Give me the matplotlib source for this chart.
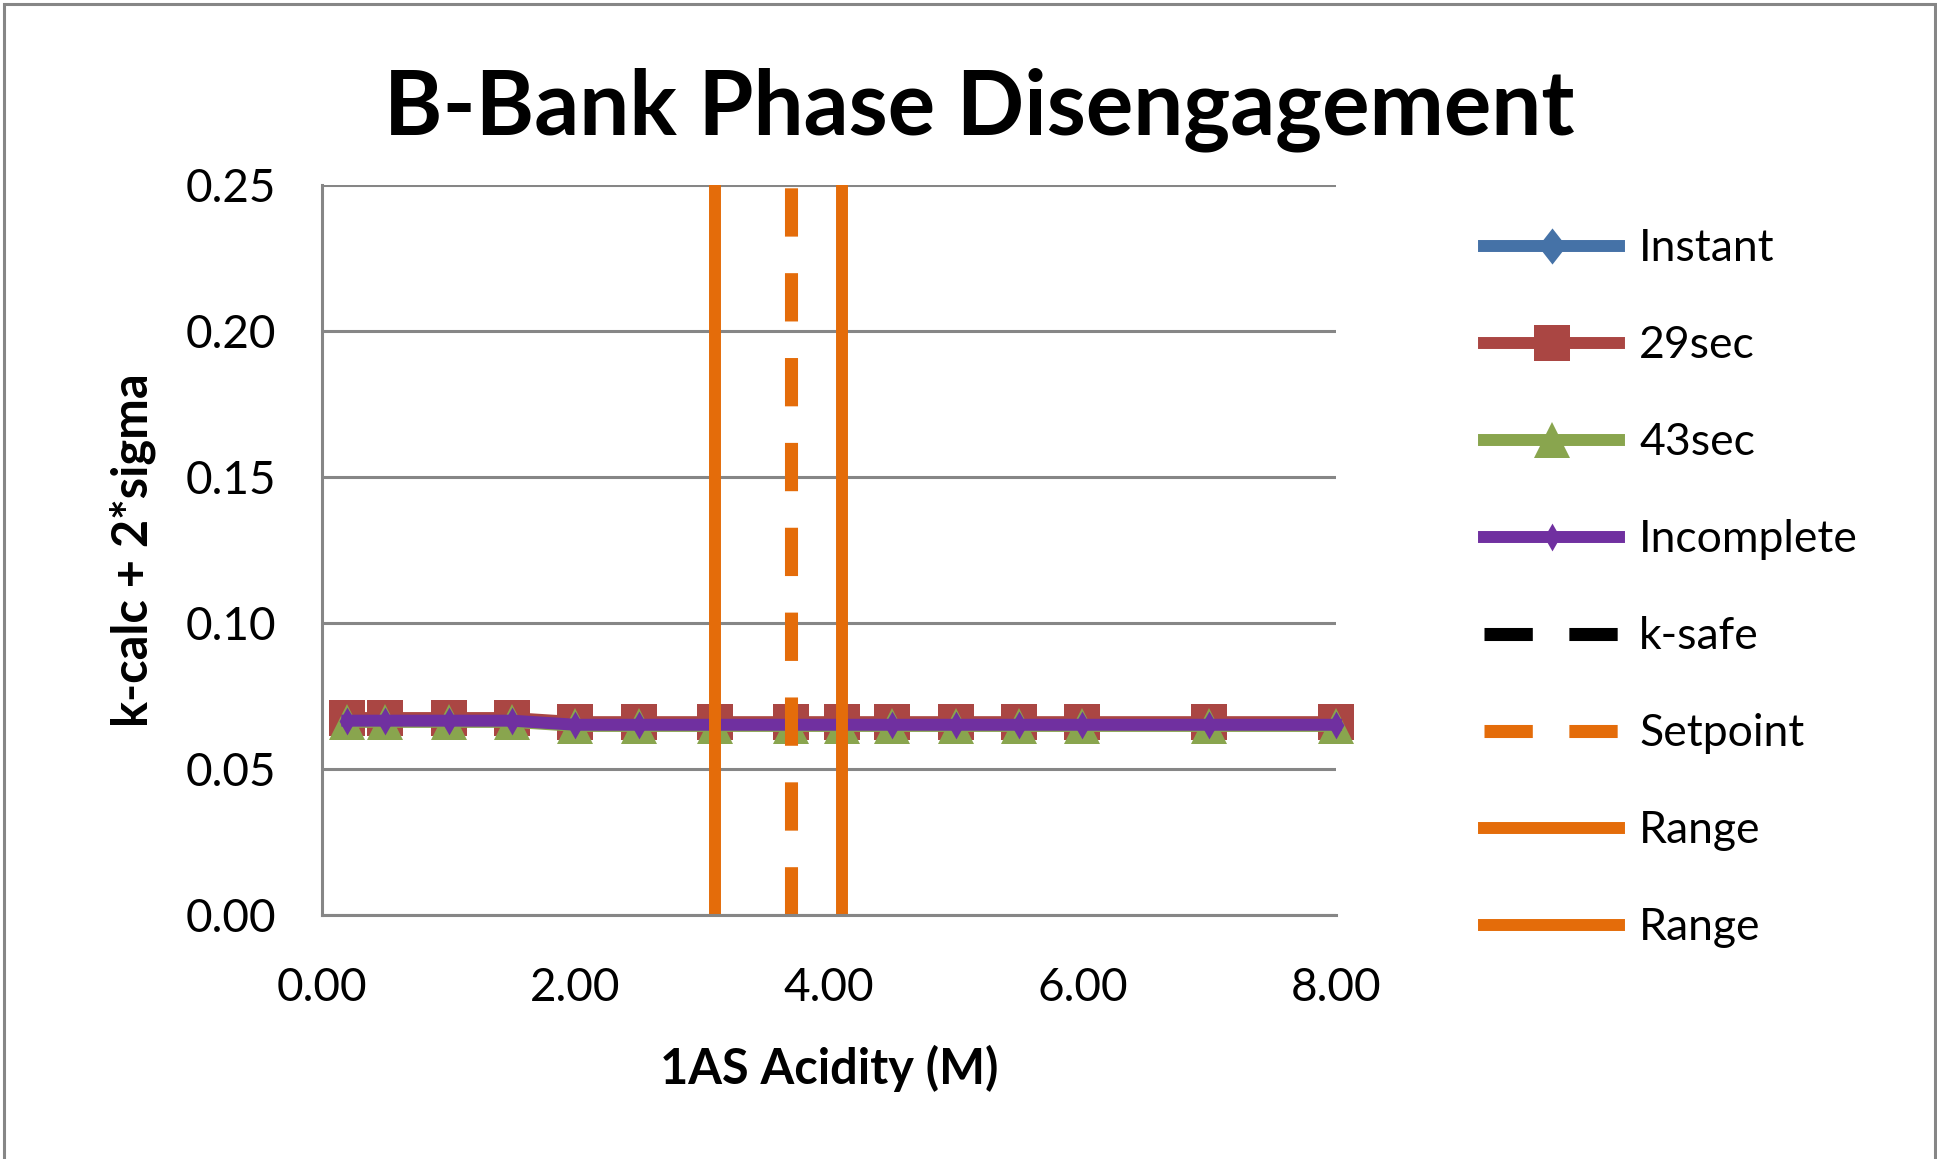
import matplotlib
matplotlib.use("Agg")
import matplotlib.pyplot as plt
from matplotlib.patches import Rectangle

plt.rcParams['font.family'] = ['Lato', 'DejaVu Sans']

# acidity points (M) and k-calc + 2*sigma for each disengagement time
acidity = [0.2, 0.5, 1.0, 1.5, 2.0, 2.5, 3.1, 3.7, 4.1, 4.5, 5.0, 5.5, 6.0, 7.0, 8.0]
instant = [0.0663, 0.0663, 0.0663, 0.0663, 0.0650, 0.0650, 0.0650, 0.0650,
           0.0650, 0.0650, 0.0650, 0.0650, 0.0650, 0.0650, 0.0650]
sec29 = [0.0674, 0.0674, 0.0674, 0.0674, 0.0660, 0.0660, 0.0660, 0.0660,
         0.0660, 0.0660, 0.0660, 0.0660, 0.0660, 0.0660, 0.0660]
sec43 = [0.0661, 0.0661, 0.0661, 0.0661, 0.0647, 0.0647, 0.0647, 0.0647,
         0.0647, 0.0647, 0.0647, 0.0647, 0.0647, 0.0647, 0.0647]
incomplete = [0.0665, 0.0665, 0.0665, 0.0665, 0.0651, 0.0651, 0.0651, 0.0651,
              0.0651, 0.0651, 0.0651, 0.0651, 0.0651, 0.0651, 0.0651]

k_safe_x = [0.0, 8.0]
k_safe_y = [0.95, 0.95]
setpoint_x = [3.7, 3.7]
setpoint_y = [0.0, 0.25]
range_low_x = [3.1, 3.1]
range_high_x = [4.1, 4.1]
range_y = [0.0, 0.25]

x_ticks = [0, 2, 4, 6, 8]
y_ticks = [0.00, 0.05, 0.10, 0.15, 0.20, 0.25]

BLUE = '#4572A7'
RED = '#AA4643'
GREEN = '#89A54E'
PURPLE = '#7030A0'
ORANGE = '#E46C0A'
GRID = '#868686'

# marker shapes: tall diamonds for Instant / Incomplete
diamond = [(0, 1), (0.78, 0), (0, -1), (-0.78, 0), (0, 1)]
slim_diamond = [(0, 1), (0.57, 0), (0, -1), (-0.57, 0), (0, 1)]

fig = plt.figure(figsize=(19.37, 11.59), dpi=100)
ax = fig.add_axes([0.1662, 0.2108, 0.5235, 0.6293])

lw = 8.6
ax.plot(acidity, instant, color=BLUE, lw=lw, marker=diamond, ms=26,
        mec=BLUE, mew=0, label='Instant', clip_on=False)
ax.plot(acidity, sec29, color=RED, lw=lw, marker='s', ms=26,
        mec=RED, mew=0, label='29sec', clip_on=False)
ax.plot(acidity, sec43, color=GREEN, lw=lw, marker='^', ms=26,
        mec=GREEN, mew=0, label='43sec', clip_on=False)
ax.plot(acidity, incomplete, color=PURPLE, lw=lw, marker=slim_diamond, ms=20,
        mec=PURPLE, mew=0, label='Incomplete', clip_on=False)
ax.plot(k_safe_x, k_safe_y, color='black', lw=9.4, dashes=(3.7, 2.8),
        label='k-safe')
ax.plot(setpoint_x, setpoint_y, color=ORANGE, lw=9.4, dashes=(3.7, 2.8),
        label='Setpoint')
ax.plot(range_low_x, range_y, color=ORANGE, lw=8.6, label='Range')
ax.plot(range_high_x, range_y, color=ORANGE, lw=8.6, label='Range')

ax.set_xlim(0, 8)
ax.set_ylim(0, 0.25)
ax.set_xticks(x_ticks)
ax.set_yticks(y_ticks)
ax.set_xticklabels([f'{v:.2f}' for v in x_ticks])
ax.set_yticklabels([f'{v:.2f}' for v in y_ticks])
ax.tick_params(axis='both', length=0, labelsize=33)
ax.tick_params(axis='y', pad=33)
ax.tick_params(axis='x', pad=38)

ax.grid(axis='y', color=GRID, lw=2.2)
ax.set_axisbelow(True)
for side in ['top', 'right']:
    ax.spines[side].set_visible(False)
for side in ['left', 'bottom']:
    ax.spines[side].set_color(GRID)
    ax.spines[side].set_linewidth(2.2)

ax.set_xlabel('1AS Acidity (M)', fontsize=35, fontweight='bold')
ax.set_ylabel('k-calc + 2*sigma', fontsize=35, fontweight='bold')
ax.xaxis.set_label_coords(0.5, -0.178)
ax.yaxis.set_label_coords(-0.164, 0.5)

fig.text(0.5054, 0.905, 'B-Bank Phase Disengagement', fontsize=64,
         fontweight='bold', ha='center', va='center')

fig.legend(loc='upper left', bbox_to_anchor=(0.766, 0.803), frameon=False,
           fontsize=32, handlelength=3.05, handletextpad=0.45,
           labelspacing=1.26, borderpad=0, borderaxespad=0, numpoints=1)

# chart border
fig.patches.append(Rectangle((0.0021, -0.01), 0.9969, 1.0065,
                             transform=fig.transFigure, fill=False,
                             edgecolor=GRID, lw=2.2))

fig.savefig('out.png', dpi=100)
